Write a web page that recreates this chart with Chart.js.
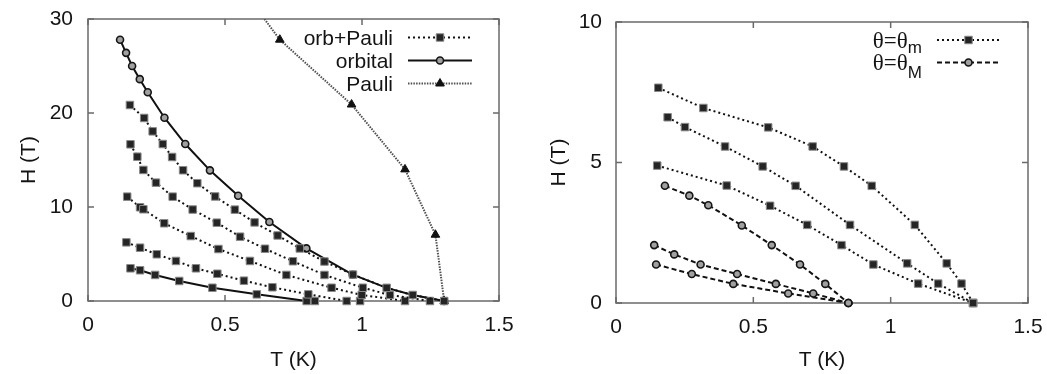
<!DOCTYPE html>
<html>
<head>
<meta charset="utf-8">
<script src="https://cdn.jsdelivr.net/npm/chart.js"></script>
<style>
  html, body { margin: 0; padding: 0; background: #fff; }
  #painelEsq { position: absolute; left: 0; top: 0; width: 520px; height: 374px; }
  #painelDir { position: absolute; left: 520px; top: 0; width: 527px; height: 374px; }
</style>
</head>
<body>
<div id="painelEsq"><canvas id="graficoEsq"></canvas></div>
<div id="painelDir"><canvas id="graficoDir"></canvas></div>
<script>
// painel esquerdo: T (K) e H (T)
var orbitalT = [0.117, 0.139, 0.161, 0.189, 0.218, 0.279, 0.355, 0.445, 0.548, 0.662, 0.797, 0.966, 1.090, 1.185, 1.300];
var orbitalH = [27.8, 26.4, 25.0, 23.6, 22.2, 19.5, 16.7, 13.9, 11.2, 8.4, 5.6, 2.8, 1.40, 0.64, 0];

var pauliT = [0.55, 0.700, 0.962, 1.157, 1.268, 1.300];
var pauliH = [33.7, 27.8, 20.9, 14.0, 7.05, 0];

var opAT = [0.153, 0.205, 0.236, 0.273, 0.307, 0.347, 0.399, 0.464, 0.536, 0.608, 0.692, 0.773, 0.863, 0.967, 1.090, 1.185, 1.300];
var opAH = [20.85, 19.47, 18.05, 16.70, 15.32, 13.91, 12.53, 11.12, 9.72, 8.36, 6.97, 5.59, 4.20, 2.81, 1.40, 0.64, 0];
var opBT = [0.155, 0.180, 0.202, 0.248, 0.309, 0.382, 0.470, 0.555, 0.646, 0.748, 0.863, 1.003, 1.102, 1.248];
var opBH = [16.67, 15.35, 13.94, 12.59, 11.10, 9.73, 8.33, 6.84, 5.56, 4.23, 2.77, 1.41, 0.64, 0];
var opCT = [0.143, 0.190, 0.202, 0.278, 0.375, 0.476, 0.591, 0.724, 0.889, 0.999, 1.157];
var opCH = [11.10, 9.97, 9.76, 8.27, 6.91, 5.53, 4.26, 2.77, 1.41, 0.64, 0];
var opDT = [0.140, 0.190, 0.251, 0.321, 0.394, 0.472, 0.569, 0.673, 0.804, 0.944];
var opDH = [6.24, 5.67, 4.97, 4.26, 3.48, 2.90, 2.16, 1.46, 0.71, 0];
var opET = [0.155, 0.190, 0.245, 0.333, 0.454, 0.616, 0.798];
var opEH = [3.48, 3.27, 2.77, 2.13, 1.41, 0.71, 0];
var soltosT = [0.828, 0.993];
var soltosH = [0, 0];

// painel direito
var mAT = [0.154, 0.318, 0.554, 0.716, 0.830, 0.931, 1.088, 1.204, 1.258, 1.300];
var mAH = [7.66, 6.94, 6.25, 5.57, 4.86, 4.17, 2.78, 1.41, 0.69, 0];
var mBT = [0.188, 0.251, 0.397, 0.534, 0.654, 0.852, 1.060, 1.173, 1.300];
var mBH = [6.61, 6.26, 5.57, 4.86, 4.17, 2.78, 1.41, 0.69, 0];
var mCT = [0.150, 0.403, 0.561, 0.696, 0.821, 0.937, 1.100, 1.300];
var mCH = [4.89, 4.18, 3.46, 2.78, 2.06, 1.37, 0.69, 0];
var MAT = [0.178, 0.267, 0.336, 0.458, 0.567, 0.670, 0.762, 0.846];
var MAH = [4.17, 3.82, 3.48, 2.76, 2.06, 1.37, 0.68, 0];
var MBT = [0.139, 0.212, 0.308, 0.441, 0.582, 0.718, 0.846];
var MBH = [2.06, 1.73, 1.37, 1.03, 0.68, 0.34, 0];
var MCT = [0.146, 0.276, 0.427, 0.627, 0.846];
var MCH = [1.37, 1.03, 0.68, 0.34, 0];

var ticksT = [0, 0.5, 1, 1.5];

var corTexto = '#141414';
var fonte = 'Liberation Sans, Arial, sans-serif';
Chart.defaults.font.family = fonte;
Chart.defaults.font.size = 21;
Chart.defaults.color = corTexto;

function pontos(ts, hs) {
    return ts.map(function(t, i) { return {x: t, y: hs[i]}; });
}

function serieQuadrados(ts, hs, tracejado) {
    return {
        data: pontos(ts, hs),
        showLine: true,
        borderColor: '#111',
        borderWidth: 2,
        borderDash: tracejado,
        pointStyle: 'rect',
        pointRadius: 5.3,
        pointBackgroundColor: '#252525',
        pointBorderColor: '#8a8a8a',
        pointBorderWidth: 1,
        clip: false
    };
}

function serieCirculos(ts, hs, tracejado) {
    return {
        data: pontos(ts, hs),
        showLine: true,
        borderColor: '#111',
        borderWidth: 2,
        borderDash: tracejado,
        pointStyle: 'circle',
        pointRadius: 3.5,
        pointBackgroundColor: '#a0a0a0',
        pointBorderColor: '#151515',
        pointBorderWidth: 1.6,
        clip: false
    };
}

function desenharMarcador(ctx, ds, x, y) {
    ctx.save();
    ctx.setLineDash([]);
    ctx.fillStyle = ds.pointBackgroundColor;
    ctx.strokeStyle = ds.pointBorderColor;
    ctx.lineWidth = ds.pointBorderWidth;
    var r = ds.legendaRaio || ds.pointRadius;
    if (Chart.helpers && Chart.helpers.drawPoint) {
        Chart.helpers.drawPoint(ctx, {pointStyle: ds.pointStyle, radius: r, rotation: 0, borderWidth: ds.pointBorderWidth}, x, y);
    }
    ctx.restore();
}

// moldura estilo gnuplot, marcas de escala para dentro e legenda
var molduraPlugin = {
    id: 'moldura',
    beforeDatasetsDraw: function(chart) {
        var ctx = chart.ctx, a = chart.chartArea;
        var sx = chart.scales.x, sy = chart.scales.y;
        ctx.save();
        ctx.strokeStyle = '#6a6a6a';
        ctx.lineWidth = 1.5;
        ctx.strokeRect(a.left, a.top, a.right - a.left, a.bottom - a.top);
        ctx.beginPath();
        sx.ticks.forEach(function(t) {
            var px = sx.getPixelForValue(t.value);
            ctx.moveTo(px, a.bottom); ctx.lineTo(px, a.bottom - 6);
            ctx.moveTo(px, a.top); ctx.lineTo(px, a.top + 6);
        });
        sy.ticks.forEach(function(t) {
            var py = sy.getPixelForValue(t.value);
            ctx.moveTo(a.left, py); ctx.lineTo(a.left + 6, py);
            ctx.moveTo(a.right, py); ctx.lineTo(a.right - 6, py);
        });
        ctx.stroke();
        ctx.restore();
    },
    afterDraw: function(chart, args, opts) {
        var ctx = chart.ctx, a = chart.chartArea;
        var xTexto = a.right - opts.texto;
        var x1 = a.right - opts.linhaIni, x2 = a.right - opts.linhaFim;
        opts.itens.forEach(function(item) {
            var ds = chart.data.datasets[item.dataset];
            var y = a.top + item.y;
            var fonteItem = item.fonte || ('21px ' + fonte);
            ctx.save();
            ctx.fillStyle = corTexto;
            ctx.textBaseline = 'alphabetic';
            ctx.textAlign = 'left';
            ctx.font = fonteItem;
            var largura = ctx.measureText(item.texto).width;
            var largSub = 0;
            if (item.sub) {
                ctx.font = '17px ' + fonte;
                largSub = ctx.measureText(item.sub).width;
            }
            ctx.font = fonteItem;
            var inicio = xTexto - largura - largSub;
            ctx.fillText(item.texto, inicio, y + 7.5);
            if (item.sub) {
                ctx.font = '17px ' + fonte;
                ctx.fillText(item.sub, inicio + largura, y + 7.5 + item.desloc);
            }
            ctx.strokeStyle = ds.borderColor;
            ctx.lineWidth = ds.borderWidth;
            ctx.setLineDash(ds.borderDash || []);
            ctx.beginPath();
            ctx.moveTo(x1, y);
            ctx.lineTo(x2, y);
            ctx.stroke();
            ctx.restore();
            desenharMarcador(ctx, ds, (x1 + x2) / 2, y);
        });
    }
};

function eixoX(altura, padTitulo) {
    return {
        type: 'linear', min: 0, max: 1.5,
        afterBuildTicks: function(s) { s.ticks = ticksT.map(function(v) { return {value: v}; }); },
        ticks: { padding: 12, color: corTexto, callback: function(v) { return String(v); } },
        grid: { display: false, drawTicks: false },
        border: { display: false },
        title: { display: true, text: 'T (K)', color: corTexto, padding: {top: 0, bottom: padTitulo} },
        afterFit: function(s) {
            s.height = altura;
            s.paddingLeft = 0;
            s.paddingRight = 0;
        }
    };
}

function eixoY(max, passo, largura, padLabel, padTitulo) {
    return {
        type: 'linear', min: 0, max: max,
        ticks: { stepSize: passo, padding: padLabel, color: corTexto, callback: function(v) { return String(v); } },
        grid: { display: false, drawTicks: false },
        border: { display: false },
        title: { display: true, text: 'H (T)', color: corTexto, padding: {top: padTitulo, bottom: 0} },
        afterFit: function(s) {
            s.width = largura;
            s.paddingTop = 0;
            s.paddingBottom = 0;
        }
    };
}

function renderizarPainelEsquerdo() {
    var orbital = serieCirculos(orbitalT, orbitalH, []);
    orbital.pointRadius = orbitalT.map(function(t, i) { return (i === 12 || i === 13) ? 0 : 3.5; });
    orbital.legendaRaio = 3.5;

    var pauli = {
        data: pontos(pauliT, pauliH),
        showLine: true,
        borderColor: '#505050',
        borderWidth: 2,
        borderDash: [1.5, 1.2],
        pointStyle: 'triangle',
        pointRadius: pauliT.map(function(t, i) { return i === 0 ? 0 : 5; }),
        legendaRaio: 5,
        pointBackgroundColor: '#111',
        pointBorderColor: '#111',
        pointBorderWidth: 1,
        clip: {left: 20, top: 0, right: 20, bottom: 20}
    };

    var soltos = serieQuadrados(soltosT, soltosH, []);
    soltos.showLine = false;

    var datasets = [
        serieQuadrados(opAT, opAH, [2, 3]),
        serieQuadrados(opBT, opBH, [2, 3]),
        serieQuadrados(opCT, opCH, [2, 3]),
        serieQuadrados(opDT, opDH, [2, 3]),
        serieQuadrados(opET, opEH, []),
        soltos,
        orbital,
        pauli
    ];

    var ctx = document.getElementById('graficoEsq').getContext('2d');
    window.graficoEsq = new Chart(ctx, {
        type: 'scatter',
        data: { datasets: datasets },
        options: {
            responsive: true,
            maintainAspectRatio: false,
            animation: false,
            layout: { autoPadding: false, padding: {left: 0, top: 19, right: 21, bottom: 0} },
            scales: {
                x: eixoX(73, 1),
                y: eixoY(30, 10, 88, 15, 17)
            },
            plugins: {
                legend: { display: false },
                tooltip: { enabled: false },
                moldura: {
                    texto: 106, linhaIni: 91, linhaFim: 27,
                    itens: [
                        {texto: 'orb+Pauli', dataset: 0, y: 18.5},
                        {texto: 'orbital', dataset: 6, y: 41.5},
                        {texto: 'Pauli', dataset: 7, y: 64.5}
                    ]
                }
            }
        },
        plugins: [molduraPlugin]
    });
}

function renderizarPainelDireito() {
    var datasets = [
        serieQuadrados(mAT, mAH, [2, 3]),
        serieQuadrados(mBT, mBH, [2, 3]),
        serieQuadrados(mCT, mCH, [2, 3]),
        serieCirculos(MAT, MAH, [5, 3]),
        serieCirculos(MBT, MBH, [5, 3]),
        serieCirculos(MCT, MCH, [5, 3])
    ];

    var ctx = document.getElementById('graficoDir').getContext('2d');
    window.graficoDir = new Chart(ctx, {
        type: 'scatter',
        data: { datasets: datasets },
        options: {
            responsive: true,
            maintainAspectRatio: false,
            animation: false,
            layout: { autoPadding: false, padding: {left: 0, top: 22, right: 19, bottom: 0} },
            scales: {
                x: eixoX(71, 1),
                y: eixoY(10, 5, 96, 14, 27)
            },
            plugins: {
                legend: { display: false },
                tooltip: { enabled: false },
                moldura: {
                    texto: 106, linhaIni: 91, linhaFim: 28,
                    itens: [
                        {texto: 'θ=θ', sub: 'm', desloc: 5, dataset: 0, y: 18, fonte: '23px Liberation Serif, serif'},
                        {texto: 'θ=θ', sub: 'M', desloc: 8, dataset: 3, y: 40.5, fonte: '23px Liberation Serif, serif'}
                    ]
                }
            }
        },
        plugins: [molduraPlugin]
    });
}

renderizarPainelEsquerdo();
renderizarPainelDireito();
</script>
</body>
</html>
